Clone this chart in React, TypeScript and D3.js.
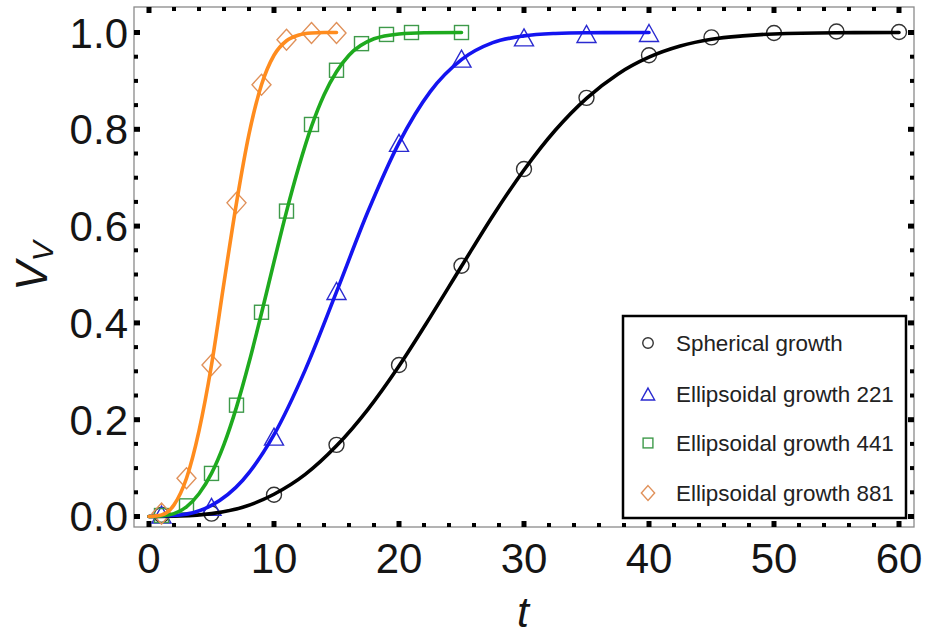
import React from "react";
import * as d3 from "d3";

// ---- data ----
const sphericalT = [1, 5, 10, 15, 20, 25, 30, 35, 40, 45, 50, 55, 60];
const sphericalV = [0.003, 0.006, 0.045, 0.148, 0.313, 0.518, 0.718, 0.865, 0.953, 0.99, 0.999, 1.002, 1.001];

const ell221T = [1, 5, 10, 15, 20, 25, 30, 35, 40];
const ell221V = [0.004, 0.02, 0.165, 0.466, 0.772, 0.946, 0.99, 0.997, 0.999];

const ell441T = [1, 3, 5, 7, 9, 11, 13, 15, 17, 19, 21, 25];
const ell441V = [0.002, 0.022, 0.089, 0.23, 0.422, 0.631, 0.81, 0.922, 0.977, 0.996, 1.0, 1.0];

const ell881T = [1, 3, 5, 7, 9, 11, 13, 15];
const ell881V = [0.006, 0.079, 0.313, 0.648, 0.892, 0.985, 0.999, 0.999];

// fitted curves
const fitSphT = [0, 2.5, 5, 7.5, 10, 12.5, 15, 17.5, 20, 22.5, 25, 27.5, 30, 32.5, 35, 37.5, 40, 42.5, 45, 47.5, 50, 55, 60];
const fitSphV = [0, 0.001, 0.006, 0.019, 0.046, 0.087, 0.146, 0.221, 0.311, 0.412, 0.517, 0.621, 0.716, 0.798, 0.864, 0.914, 0.949, 0.972, 0.986, 0.993, 0.997, 0.9995, 1.0];

const fit221T = [0, 2.5, 5, 7.5, 10, 12.5, 15, 17.5, 20, 22.5, 25, 27.5, 30, 32.5, 35, 40];
const fit221V = [0, 0.003, 0.023, 0.075, 0.169, 0.303, 0.464, 0.629, 0.772, 0.878, 0.944, 0.979, 0.993, 0.998, 0.9995, 1.0];

const fit441T = [0, 1, 2, 3, 4, 5, 6, 7, 8, 9, 10, 11, 12, 13, 14, 15, 16, 18, 20, 22, 25];
const fit441V = [0, 0.001, 0.006, 0.02, 0.047, 0.089, 0.149, 0.226, 0.318, 0.42, 0.526, 0.63, 0.724, 0.806, 0.871, 0.919, 0.953, 0.987, 0.997, 0.9995, 1.0];

const fit881T = [0, 1, 2, 3, 4, 5, 6, 7, 8, 9, 10, 11, 12, 13, 14, 15];
const fit881V = [0, 0.003, 0.024, 0.079, 0.177, 0.313, 0.483, 0.648, 0.79, 0.892, 0.953, 0.983, 0.995, 0.999, 1.0, 1.0];

const legendLabels = ["Spherical growth", "Ellipsoidal growth 221", "Ellipsoidal growth 441", "Ellipsoidal growth 881"];
const xTickValues = [0, 10, 20, 30, 40, 50, 60];
const yTickValues = [0, 0.2, 0.4, 0.6, 0.8, 1.0];

// ---- layout ----
const W = 928, H = 636;
const L = 134, R = 914, T = 7, B = 527;
const FONT = "'Liberation Sans', Arial, sans-serif";

const x = d3.scaleLinear().domain([-1.2, 61.2]).range([L, R]);
const y = d3.scaleLinear().domain([-0.0217, 1.0527]).range([B, T]);

const lineColors = ["#000000", "#1414f0", "#1eaa1e", "#ff8c1e"];
const markColors = ["#333333", "#2a2ad0", "#3e9a4a", "#e0915a"];

type Shape = "circle" | "triangle" | "square" | "diamond";
const shapes: Shape[] = ["circle", "triangle", "square", "diamond"];

function Marker({ cx, cy, shape, color, s = 1, sw = 1.4 }: { cx: number; cy: number; shape: Shape; color: string; s?: number; sw?: number }) {
  if (shape === "circle") return <circle cx={cx} cy={cy} r={7.5 * s} fill="none" stroke={color} strokeWidth={sw} />;
  if (shape === "triangle") {
    const hw = 9.5 * s, hh = 8.5 * s;
    return <path d={`M${cx},${cy - hh}L${cx + hw},${cy + hh}L${cx - hw},${cy + hh}Z`} fill="none" stroke={color} strokeWidth={sw} />;
  }
  if (shape === "square") {
    const h = 7 * s;
    return <rect x={cx - h} y={cy - h} width={2 * h} height={2 * h} fill="none" stroke={color} strokeWidth={sw} />;
  }
  const hw = 9.5 * s, hh = 10.5 * s;
  return <path d={`M${cx},${cy - hh}L${cx + hw},${cy}L${cx},${cy + hh}L${cx - hw},${cy}Z`} fill="none" stroke={color} strokeWidth={sw} />;
}

export default function App() {
  const series = [
    { t: sphericalT, v: sphericalV, ft: fitSphT, fv: fitSphV },
    { t: ell221T, v: ell221V, ft: fit221T, fv: fit221V },
    { t: ell441T, v: ell441V, ft: fit441T, fv: fit441V },
    { t: ell881T, v: ell881V, ft: fit881T, fv: fit881V },
  ];
  const line = d3
    .line<[number, number]>()
    .x((d) => x(d[0]))
    .y((d) => y(d[1]))
    .curve(d3.curveMonotoneX);

  const xMinor = d3.range(0, 61, 2).filter((v) => v % 10 !== 0);
  const yMinor = d3.range(0, 21).map((i) => i * 0.05).filter((_, i) => i % 4 !== 0);

  const tickLines: JSX.Element[] = [];
  xTickValues.forEach((v, i) => {
    tickLines.push(<line key={`xb${i}`} x1={x(v)} x2={x(v)} y1={B} y2={B - 6} stroke="#000" strokeWidth={5} />);
    tickLines.push(<line key={`xt${i}`} x1={x(v)} x2={x(v)} y1={T} y2={T + 6} stroke="#000" strokeWidth={5} />);
  });
  xMinor.forEach((v, i) => {
    tickLines.push(<line key={`xbm${i}`} x1={x(v)} x2={x(v)} y1={B} y2={B - 4} stroke="#000" strokeWidth={4} />);
    tickLines.push(<line key={`xtm${i}`} x1={x(v)} x2={x(v)} y1={T} y2={T + 4} stroke="#000" strokeWidth={4} />);
  });
  yTickValues.forEach((v, i) => {
    tickLines.push(<line key={`yl${i}`} x1={L} x2={L + 6} y1={y(v)} y2={y(v)} stroke="#000" strokeWidth={5} />);
    tickLines.push(<line key={`yr${i}`} x1={R} x2={R - 6} y1={y(v)} y2={y(v)} stroke="#000" strokeWidth={5} />);
  });
  yMinor.forEach((v, i) => {
    tickLines.push(<line key={`ylm${i}`} x1={L} x2={L + 4} y1={y(v)} y2={y(v)} stroke="#000" strokeWidth={4} />);
    tickLines.push(<line key={`yrm${i}`} x1={R} x2={R - 4} y1={y(v)} y2={y(v)} stroke="#000" strokeWidth={4} />);
  });

  const legX = 623, legY = 316, legW = 283, legH = 202;
  const legRows = [343, 394, 443, 493];

  return (
    <svg width={W} height={H} style={{ position: "absolute", left: 0, top: 0, background: "#fff" }} fontFamily={FONT}>
      <rect x={0} y={0} width={W} height={H} fill="#fff" />
      {/* frame */}
      <rect x={L} y={T} width={R - L} height={B - T} fill="none" stroke="#8a8a8a" strokeWidth={1.3} />
      {tickLines}
      {/* tick labels */}
      {xTickValues.map((v) => (
        <text key={`xl${v}`} x={x(v)} y={573} textAnchor="middle" fontSize={42} fill="#151515">
          {v}
        </text>
      ))}
      {yTickValues.map((v) => (
        <text key={`yl${v}`} x={128} y={y(v) + 15} textAnchor="end" fontSize={42} fill="#151515">
          {v.toFixed(1)}
        </text>
      ))}
      {/* axis titles */}
      <text x={523} y={627} textAnchor="middle" fontSize={43} fontStyle="italic" fill="#151515">
        t
      </text>
      <text transform={`translate(47,266) rotate(-90)`} textAnchor="middle" fontSize={44} fontStyle="italic" fill="#151515">
        V<tspan fontSize={30} dy={6}>V</tspan>
      </text>
      {/* markers */}
      {series.map((s, si) =>
        s.t.map((t, i) => <Marker key={`m${si}-${i}`} cx={x(t)} cy={y(s.v[i])} shape={shapes[si]} color={markColors[si]} />)
      )}
      {/* fitted curves */}
      {series.map((s, si) => (
        <path
          key={`l${si}`}
          d={line(s.ft.map((t, i) => [t, s.fv[i]] as [number, number])) || ""}
          fill="none"
          stroke={lineColors[si]}
          strokeWidth={3.6}
          strokeLinejoin="round"
          strokeLinecap="round"
        />
      ))}
      {/* legend */}
      <rect x={legX} y={legY} width={legW} height={legH} fill="#fff" stroke="#000" strokeWidth={2.5} />
      {legendLabels.map((lab, i) => (
        <g key={`lg${i}`}>
          <Marker cx={648} cy={legRows[i]} shape={shapes[i]} color={markColors[i]} s={0.7} sw={1.4} />
          <text x={676} y={legRows[i] + 8} fontSize={22.4} fill="#222">
            {lab}
          </text>
        </g>
      ))}
    </svg>
  );
}
